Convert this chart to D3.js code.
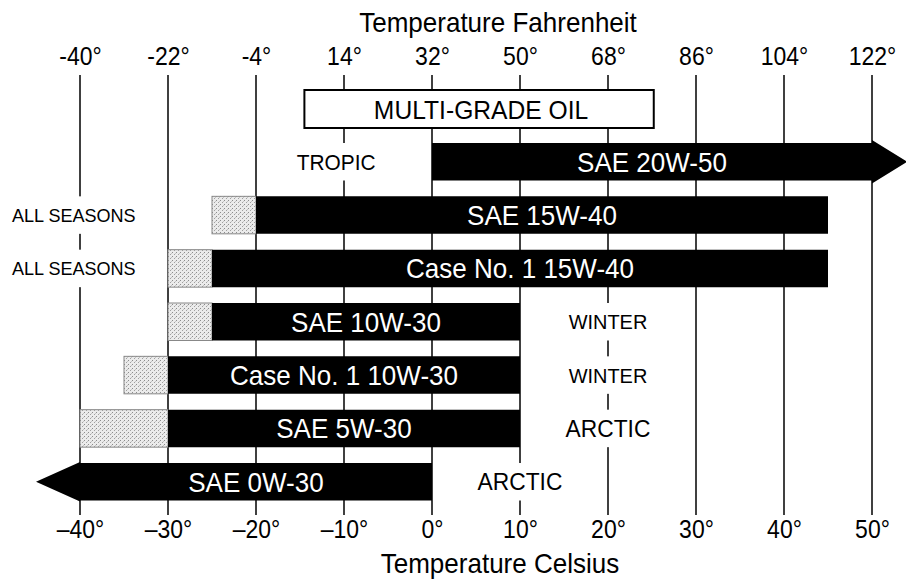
<!DOCTYPE html>
<html>
<head>
<meta charset="utf-8">
<script src="https://cdn.jsdelivr.net/npm/d3@7"></script>
<style>
  html, body { margin: 0; padding: 0; background: #fff; }
  svg { display: block; font-family: "Liberation Sans", Arial, Helvetica, sans-serif; }
</style>
</head>
<body>
<svg id="chart" width="906" height="580"></svg>
<script>
// ---------- data ----------
const celsiusTicks = [-40, -30, -20, -10, 0, 10, 20, 30, 40, 50];
const celsiusLabels = ["\u201340°", "\u201330°", "\u201320°", "\u201310°", "0°", "10°", "20°", "30°", "40°", "50°"];
const fahrenheitLabels = ["-40°", "-22°", "-4°", "14°", "32°", "50°", "68°", "86°", "104°", "122°"];

const grades = ["SAE 20W-50", "SAE 15W-40", "Case No. 1 15W-40", "SAE 10W-30", "Case No. 1 10W-30", "SAE 5W-30", "SAE 0W-30"];
const rangeStart    = [0, -20, -25, -25, -30, -30, -40];   // °C, black bar start
const rangeEnd      = [50, 45, 45, 10, 10, 10, 0];         // °C, black bar end
const extendedStart = [null, -25, -30, -30, -35, -40, null]; // °C, shaded extension start
const arrowTip      = [54, null, null, null, null, null, -45]; // °C, open-ended arrows
const seasons  = ["TROPIC", "ALL SEASONS", "ALL SEASONS", "WINTER", "WINTER", "ARCTIC", "ARCTIC"];
const seasonAt = [-10.9, -40.7, -40.7, 20, 20, 20, 10];    // °C where season label sits
const headerText = "MULTI-GRADE OIL";
const headerRange = [-14.5, 25.2];

// ---------- layout ----------
const svg = d3.select("#chart");
const x = d3.scaleLinear().domain([-40, 50]).range([80, 872]);
const y = d3.scaleBand().domain(grades).range([143, 500.5]).paddingInner(0.297).paddingOuter(0);
const bw = y.bandwidth();
const seasonSize = { "TROPIC": 22, "ALL SEASONS": 19, "WINTER": 21, "ARCTIC": 24 };
const CONDENSE = 0.93;

// helper: place condensed text at (px, py)
function place(sel, px, py, k) {
  sel.attr("x", 0).attr("y", 0)
    .attr("transform", (d, i) => `translate(${typeof px === "function" ? px(d, i) : px},${typeof py === "function" ? py(d, i) : py}) scale(${k},1)`);
  return sel;
}

// pattern for shaded extension
const defs = svg.append("defs");
const pat = defs.append("pattern").attr("id", "stipple").attr("patternUnits", "userSpaceOnUse")
  .attr("width", 4).attr("height", 4);
pat.append("rect").attr("width", 4).attr("height", 4).attr("fill", "#ebebeb");
pat.append("rect").attr("x", 0).attr("y", 0).attr("width", 1).attr("height", 1).attr("fill", "#8c8c8c");
pat.append("rect").attr("x", 2).attr("y", 2).attr("width", 1).attr("height", 1).attr("fill", "#a0a0a0");
pat.append("rect").attr("x", 3).attr("y", 1).attr("width", 1).attr("height", 1).attr("fill", "#c4c4c4");

// grid lines
svg.append("g").selectAll("line").data(celsiusTicks).join("line")
  .attr("x1", d => x(d)).attr("x2", d => x(d))
  .attr("y1", 75).attr("y2", 515)
  .attr("stroke", "#000").attr("stroke-width", 1.5);

// axes
const topAxis = svg.append("g").attr("transform", "translate(0,65)")
  .call(d3.axisTop(x).tickValues(celsiusTicks).tickSize(0).tickFormat((d, i) => fahrenheitLabels[i]));
const botAxis = svg.append("g").attr("transform", "translate(0,538)")
  .call(d3.axisBottom(x).tickValues(celsiusTicks).tickSize(0).tickFormat((d, i) => celsiusLabels[i]));
[topAxis, botAxis].forEach(g => {
  g.select(".domain").remove();
  g.selectAll("text").attr("y", 0).attr("dy", null).attr("x", 0)
    .attr("transform", `scale(${0.92},1)`)
    .attr("font-size", 25).attr("fill", "#000")
    .attr("font-family", "Liberation Sans, Arial, Helvetica, sans-serif");
});

// titles
place(svg.append("text"), 498, 32, CONDENSE).attr("text-anchor", "middle")
  .attr("font-size", 28).text("Temperature Fahrenheit");
place(svg.append("text"), 500, 573, CONDENSE).attr("text-anchor", "middle")
  .attr("font-size", 28).text("Temperature Celsius");

// header box
svg.append("rect").attr("x", x(headerRange[0])).attr("y", 90)
  .attr("width", x(headerRange[1]) - x(headerRange[0])).attr("height", 38)
  .attr("fill", "#fff").attr("stroke", "#000").attr("stroke-width", 2);
place(svg.append("text"), (x(headerRange[0]) + x(headerRange[1])) / 2 + 2, 109, CONDENSE)
  .attr("dy", "0.36em").attr("text-anchor", "middle").attr("font-size", 26.5).text(headerText);

// rows
const rows = grades.map((g, i) => ({
  grade: g, start: rangeStart[i], end: rangeEnd[i], ext: extendedStart[i],
  tip: arrowTip[i], season: seasons[i], seasonX: seasonAt[i]
}));

// season labels with white backing sized to the text
const sl = svg.append("g").selectAll("g").data(rows).join("g");
place(sl.append("text"), d => x(d.seasonX), d => y(d.grade) + bw / 2, 0.95)
  .attr("dy", "0.36em")
  .attr("text-anchor", "middle").attr("font-size", d => seasonSize[d.season])
  .text(d => d.season)
  .each(function (d) {
    const svgBox = svg.node().getBoundingClientRect();
    const b = this.getBoundingClientRect();
    d3.select(this.parentNode).insert("rect", "text")
      .attr("x", b.left - svgBox.left - 4).attr("width", b.width + 8)
      .attr("y", y(d.grade)).attr("height", bw)
      .attr("fill", "#fff");
  });

// shaded extensions
svg.append("g").selectAll("rect").data(rows.filter(d => d.ext !== null)).join("rect")
  .attr("x", d => x(d.ext)).attr("width", d => x(d.start) - x(d.ext))
  .attr("y", d => y(d.grade)).attr("height", bw)
  .attr("fill", "url(#stipple)").attr("stroke", "#888").attr("stroke-width", 1);

// black bars (with arrowheads when open-ended)
svg.append("g").selectAll("path").data(rows).join("path")
  .attr("d", d => {
    const x0 = x(d.start), x1 = x(d.end), y0 = y(d.grade), y1 = y0 + bw, ym = y0 + bw / 2;
    if (d.tip !== null && d.tip > d.end) {
      const t = x(d.tip);
      return `M${x0},${y0}H${x1}V${y0 - 3}L${t},${ym}L${x1},${y1 + 3}V${y1}H${x0}Z`;
    } else if (d.tip !== null && d.tip < d.start) {
      const t = x(d.tip);
      return `M${x1},${y0}H${x0}V${y0 - 1}L${t},${ym}L${x0},${y1 + 1}V${y1}H${x1}Z`;
    }
    return `M${x0},${y0}H${x1}V${y1}H${x0}Z`;
  })
  .attr("fill", "#000");

// bar labels
place(svg.append("g").selectAll("text").data(rows).join("text"),
      d => (x(d.start) + x(d.end)) / 2, d => y(d.grade) + bw / 2, CONDENSE)
  .attr("dy", "0.36em")
  .attr("text-anchor", "middle").attr("font-size", 28).attr("fill", "#fff")
  .text(d => d.grade);
</script>
</body>
</html>
